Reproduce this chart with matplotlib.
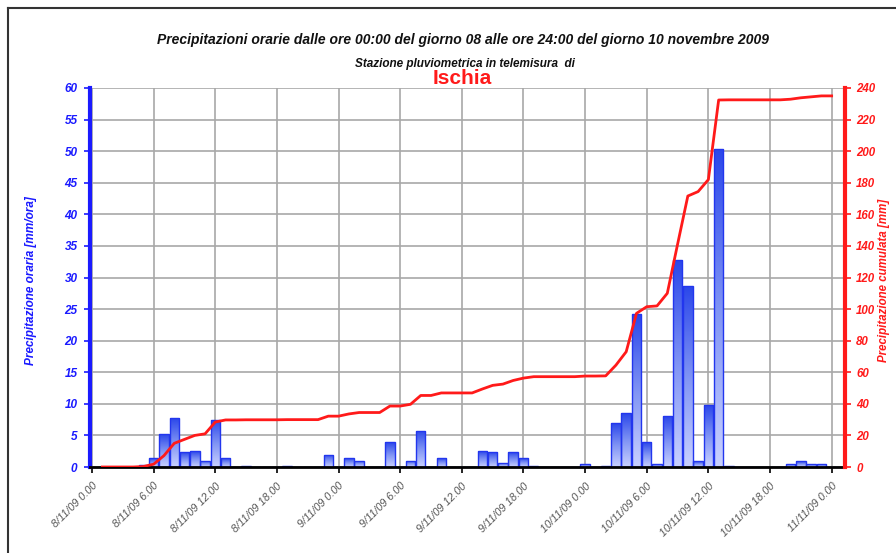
import numpy as np
import matplotlib
matplotlib.use("Agg")
import matplotlib.pyplot as plt
from matplotlib import font_manager
from matplotlib.patches import Rectangle
from matplotlib.colors import LinearSegmentedColormap
from matplotlib.lines import Line2D

names = {f.name for f in font_manager.fontManager.ttflist}
NARROW = "Liberation Sans Narrow" if "Liberation Sans Narrow" in names else "Liberation Sans"
SANS = "Liberation Sans"

# ---------------- data ----------------
hours = list(range(1, 73))
hourly = [0, 0, 0, 0, 0.3, 1.4, 5.2, 7.7, 2.3, 2.5, 1.0, 7.5,
          1.4, 0, 0.1, 0, 0, 0, 0.1, 0, 0, 0, 1.9, 0,
          1.4, 0.95, 0, 0, 3.95, 0, 0.95, 5.7, 0, 1.4, 0, 0,
          0, 2.5, 2.3, 0.7, 2.3, 1.4, 0.1, 0, 0, 0, 0, 0.4,
          0, 0.1, 6.9, 8.5, 24.2, 3.9, 0.4, 8.0, 32.7, 28.6, 0.9, 9.8,
          50.4, 0.1, 0, 0, 0, 0, 0, 0.4, 0.9, 0.4, 0.4, 0]
cumulative = [0, 0, 0, 0, 0.3, 1.8, 7.2, 15.0, 17.5, 20.0, 21.0, 28.5,
              29.8, 29.8, 29.9, 29.9, 29.9, 29.9, 30.0, 30.0, 30.0, 30.0, 32.2, 32.2,
              33.6, 34.5, 34.5, 34.5, 38.6, 38.6, 39.7, 45.3, 45.3, 46.9, 46.9, 46.9,
              46.9, 49.4, 51.7, 52.5, 54.8, 56.3, 57.2, 57.2, 57.2, 57.2, 57.2, 57.6,
              57.6, 57.7, 64.5, 73.0, 97.3, 101.5, 102.0, 110.0, 141.0, 171.6, 174.4, 182.0,
              232.4, 232.5, 232.5, 232.5, 232.5, 232.5, 232.5, 232.9, 233.8, 234.4, 235.0, 235.0]
tick_hours = [0, 6, 12, 18, 24, 30, 36, 42, 48, 54, 60, 66, 72]
tick_labels = ["8/11/09 0.00", "8/11/09 6.00", "8/11/09 12.00", "8/11/09 18.00",
               "9/11/09 0.00", "9/11/09 6.00", "9/11/09 12.00", "9/11/09 18.00",
               "10/11/09 0.00", "10/11/09 6.00", "10/11/09 12.00", "10/11/09 18.00",
               "11/11/09 0.00"]
left_ticks = list(range(0, 61, 5))
right_ticks = list(range(0, 241, 20))

# ---------------- figure ----------------
W, H = 896, 553
fig = plt.figure(figsize=(W / 100, H / 100), dpi=100)
fig.patch.set_facecolor("white")

x0, x1, ytop, ybot = 90, 845, 88, 467
ax = fig.add_axes([x0 / W, 1 - ybot / H, (x1 - x0) / W, (ybot - ytop) / H])
ax.set_facecolor("white")

BLUE = "#1a1aff"
RED = "#ff1a1a"

cmap = LinearSegmentedColormap.from_list("bar", ["#c8d0ff", "#7f93f4", "#2c48ea"])
grad = np.linspace(0, 1, 64).reshape(-1, 1)

bw = 0.92
bars = ax.bar(hours, hourly, width=bw, facecolor="none", edgecolor="#2236ee",
              linewidth=1.0, zorder=3)
for rect in bars:
    h = rect.get_height()
    if h <= 0:
        continue
    x = rect.get_x()
    im = ax.imshow(grad, extent=(x, x + bw, 0, h), origin="lower", aspect="auto",
                   cmap=cmap, zorder=2.5, interpolation="bilinear")
    clip = Rectangle((x, 0), bw, h, transform=ax.transData)
    im.set_clip_path(clip)

ax.set_xlim(-0.2, 73.3)
ax.set_ylim(0, 60)
ax.set_yticks(left_ticks)
ax.set_xticks(tick_hours)
ax.set_xticklabels(tick_labels, rotation=45, ha="right", va="top",
                   rotation_mode="anchor", fontsize=7.8, color="#555555",
                   fontstyle="italic", family=SANS)
ax.tick_params(axis="x", direction="out", length=4, width=1.2, color="black", pad=6)
ax.tick_params(axis="y", direction="out", length=4, width=1.2, color=BLUE,
               labelcolor=BLUE, pad=5)
for lab in ax.get_yticklabels():
    lab.set_fontstyle("italic")
    lab.set_fontweight("bold")
    lab.set_family(NARROW)
    lab.set_fontsize(8.5)

ax.grid(True, color="#a8a8a8", linewidth=1.2, zorder=0)
ax.set_axisbelow(True)
for s in ["top", "right"]:
    ax.spines[s].set_visible(False)
ax.spines["left"].set_color(BLUE)
ax.spines["left"].set_linewidth(3)
ax.spines["bottom"].set_color("black")
ax.spines["bottom"].set_linewidth(2)
ax.spines["left"].set_zorder(5)
ax.spines["bottom"].set_zorder(5)

ax2 = ax.twinx()
ax2.plot(hours, cumulative, color=RED, linewidth=2.0, zorder=6)
ax2.set_ylim(0, 240)
ax2.set_yticks(right_ticks)
ax2.tick_params(axis="y", direction="out", length=4, width=1.2, color=RED,
                labelcolor=RED, pad=4)
for lab in ax2.get_yticklabels():
    lab.set_fontstyle("italic")
    lab.set_fontweight("bold")
    lab.set_family(NARROW)
    lab.set_fontsize(8.3)
for s in ["top", "left", "bottom"]:
    ax2.spines[s].set_visible(False)
ax2.spines["right"].set_color(RED)
ax2.spines["right"].set_linewidth(3)

# ---------------- texts ----------------
fig.text(463 / W, 1 - 40 / H,
         "Precipitazioni orarie dalle ore 00:00 del giorno 08 alle ore 24:00 del giorno 10 novembre 2009",
         ha="center", va="center", fontsize=10, fontweight="bold", fontstyle="italic",
         family=NARROW, color="#111111")
fig.text(465 / W, 1 - 63.5 / H, "Stazione pluviometrica in telemisura  di",
         ha="center", va="center", fontsize=8.5, fontweight="bold", fontstyle="italic",
         family=NARROW, color="#111111")
fig.text(462 / W, 1 - 78 / H, "Ischia", ha="center", va="center", fontsize=15,
         fontweight="bold", family=NARROW, color="#ff1a1a")
fig.text(31 / W, 1 - 281 / H, "Precipitazione oraria [mm/ora]", rotation=90,
         ha="center", va="center", fontsize=8.5, fontweight="bold", fontstyle="italic",
         family=NARROW, color=BLUE)
fig.text(884 / W, 1 - 280 / H, "Precipitazione cumulata [mm]", rotation=90,
         ha="center", va="center", fontsize=8.3, fontweight="bold", fontstyle="italic",
         family=NARROW, color=RED)

# outer frame (top and left visible)
fig.add_artist(Line2D([7.5 / W, 7.5 / W], [0, 1 - 7.5 / H], transform=fig.transFigure,
                      color="#333333", linewidth=1.5))
fig.add_artist(Line2D([7.5 / W, 1], [1 - 7.5 / H, 1 - 7.5 / H], transform=fig.transFigure,
                      color="#333333", linewidth=1.5))

fig.savefig("out.png", dpi=100, facecolor="white")
